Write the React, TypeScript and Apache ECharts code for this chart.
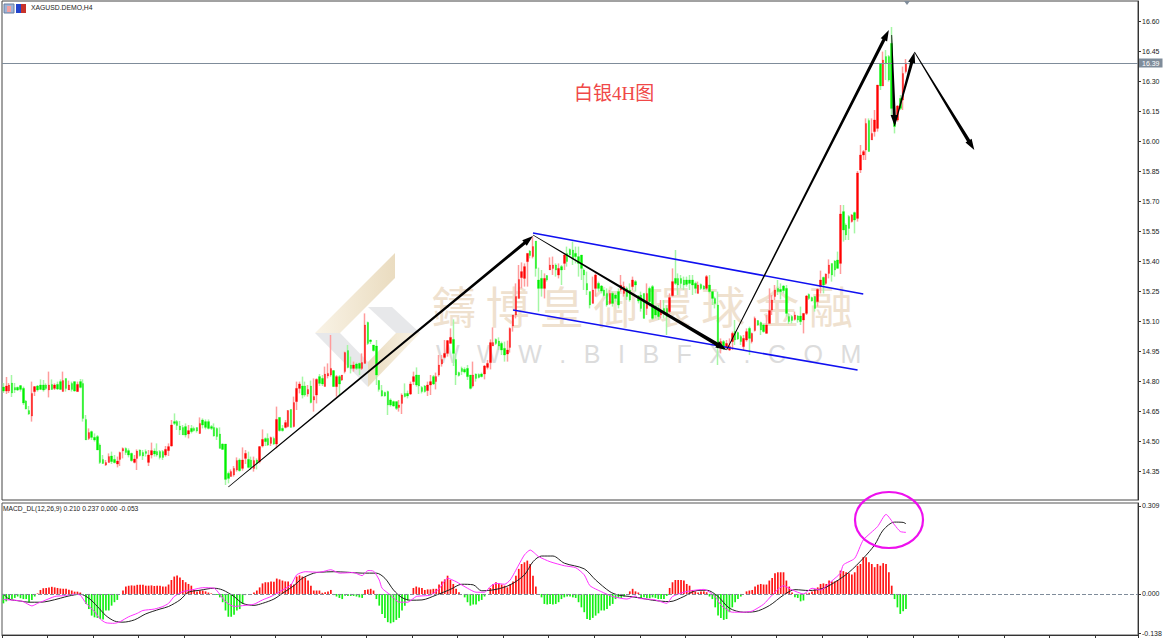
import React, { useEffect, useRef } from "react";
import * as echarts from "echarts";

type C = [number, number, number, number];
// [open, close, low, high]
const candlesFlat: C[] = [
[14.77,14.75,14.74,14.79],[14.75,14.775,14.735,14.82],[14.75,14.78,14.74,14.79],[14.79,14.74,14.72,14.83],[14.767,14.755,14.74,14.79],[14.768,14.755,14.75,14.772],[14.777,14.758,14.747,14.78],[14.763,14.69,14.68,14.772],[14.70,14.66,14.658,14.705],[14.652,14.635,14.63,14.675],
[14.625,14.738,14.597,14.797],[14.747,14.772,14.725,14.775],[14.775,14.755,14.747,14.78],[14.78,14.758,14.755,14.808],[14.78,14.755,14.747,14.805],[14.78,14.763,14.755,14.788],[14.755,14.78,14.718,14.847],[14.783,14.758,14.755,14.808],[14.763,14.78,14.755,14.788],[14.783,14.76,14.755,14.797],
[14.797,14.758,14.755,14.808],[14.747,14.802,14.747,14.847],[14.813,14.763,14.747,14.813],[14.755,14.78,14.755,14.802],[14.788,14.758,14.747,14.797],[14.797,14.75,14.747,14.797],[14.747,14.783,14.747,14.797],[14.797,14.768,14.763,14.81],[14.788,14.613,14.597,14.808],[14.608,14.505,14.505,14.63],
[14.513,14.542,14.505,14.563],[14.547,14.518,14.505,14.552],[14.518,14.505,14.497,14.538],[14.522,14.455,14.455,14.53],[14.48,14.392,14.385,14.488],[14.408,14.388,14.385,14.43],[14.38,14.392,14.375,14.405],[14.392,14.422,14.392,14.438],[14.425,14.397,14.385,14.447],[14.408,14.392,14.388,14.43],
[14.385,14.4,14.368,14.422],[14.408,14.442,14.375,14.447],[14.45,14.462,14.413,14.468],[14.463,14.442,14.43,14.468],[14.452,14.43,14.418,14.463],[14.438,14.402,14.397,14.442],[14.393,14.41,14.388,14.43],[14.413,14.45,14.355,14.458],[14.455,14.427,14.422,14.458],[14.443,14.425,14.405,14.455],
[14.447,14.438,14.422,14.458],[14.393,14.43,14.375,14.455],[14.43,14.452,14.413,14.492],[14.45,14.435,14.422,14.463],[14.447,14.43,14.422,14.488],[14.447,14.418,14.408,14.455],[14.447,14.418,14.405,14.455],[14.43,14.458,14.422,14.475],[14.452,14.472,14.425,14.488],[14.475,14.58,14.472,14.605],
[14.597,14.588,14.58,14.638],[14.597,14.577,14.555,14.605],[14.575,14.555,14.53,14.6],[14.568,14.53,14.53,14.58],[14.572,14.53,14.518,14.588],[14.535,14.552,14.513,14.58],[14.563,14.547,14.538,14.58],[14.563,14.552,14.547,14.572],[14.567,14.55,14.542,14.568],[14.538,14.588,14.535,14.618],
[14.605,14.58,14.563,14.613],[14.597,14.568,14.558,14.608],[14.597,14.563,14.558,14.608],[14.572,14.563,14.555,14.58],[14.568,14.525,14.522,14.588],[14.563,14.522,14.505,14.568],[14.535,14.463,14.463,14.568],[14.485,14.458,14.455,14.488],
];
const candlesRiseOne: C[] = [
[14.485,14.308,14.28,14.485],[14.338,14.313,14.288,14.347],[14.322,14.347,14.322,14.358],[14.33,14.363,14.322,14.375],[14.355,14.402,14.347,14.418],[14.405,14.352,14.347,14.413],[14.363,14.405,14.352,14.468],[14.413,14.438,14.385,14.455],[14.408,14.368,14.363,14.447],[14.405,14.368,14.355,14.422],
[14.363,14.402,14.347,14.422],[14.405,14.388,14.358,14.413],[14.397,14.472,14.388,14.475],[14.475,14.508,14.468,14.558],[14.512,14.497,14.475,14.518],[14.513,14.48,14.475,14.538],[14.488,14.517,14.475,14.522],[14.513,14.485,14.48,14.522],[14.485,14.608,14.463,14.672],[14.618,14.552,14.547,14.618],
[14.563,14.552,14.547,14.58],[14.568,14.592,14.563,14.605],[14.572,14.652,14.568,14.655],[14.658,14.568,14.568,14.658],[14.572,14.692,14.568,14.722],[14.697,14.763,14.655,14.797],[14.763,14.785,14.738,14.797],[14.775,14.73,14.713,14.822],[14.775,14.73,14.722,14.797],[14.735,14.758,14.722,14.78],
[14.775,14.692,14.688,14.802],[14.705,14.722,14.647,14.813],[14.73,14.808,14.688,14.813],[14.822,14.788,14.775,14.835],[14.813,14.785,14.775,14.83],[14.772,14.835,14.772,14.872],[14.825,14.838,14.813,14.888],[14.83,14.863,14.822,15.03],[14.852,14.772,14.772,14.855],[14.772,14.822,14.722,14.83],
[14.822,14.785,14.73,14.83],[14.805,14.83,14.8,14.83],[14.847,14.942,14.838,14.947],[14.952,14.868,14.863,14.98],[14.88,14.863,14.838,14.922],[14.863,14.88,14.847,14.897],[14.885,14.863,14.855,14.892],[14.888,14.863,14.83,14.892],[14.863,14.892,14.855,14.938],[14.888,15.08,14.888,15.138],
[15.093,14.988,14.98,15.097],[15.005,14.997,14.985,15.008],[14.98,14.952,14.947,14.98],[14.975,14.83,14.78,15.005],[14.802,14.758,14.747,14.805],[14.752,14.725,14.722,14.78],[14.743,14.725,14.722,14.747],[14.747,14.68,14.63,14.752],[14.705,14.68,14.672,14.713],[14.697,14.675,14.672,14.702],
[14.697,14.663,14.655,14.697],[14.668,14.68,14.647,14.705],[14.688,14.73,14.635,14.738],[14.738,14.722,14.718,14.788],[14.738,14.725,14.713,14.752],[14.735,14.785,14.73,14.797],[14.797,14.822,14.78,14.847],[14.83,14.78,14.772,14.868],[14.83,14.775,14.735,14.83],[14.768,14.747,14.738,14.775],
[14.775,14.747,14.742,14.78],[14.752,14.78,14.725,14.797],[14.78,14.797,14.73,14.83],[14.822,14.785,14.78,14.83],[14.797,14.822,14.758,14.842],[14.83,14.88,14.822,14.93],[14.885,14.908,14.872,14.93],[14.918,14.938,14.913,15.005],[14.938,15.002,14.922,15.005],[14.988,15.018,14.988,15.063],
[15.008,14.938,14.875,15.108],[14.908,14.83,14.78,14.938],[14.842,14.828,14.822,14.847],[14.863,14.847,14.83,14.872],[14.858,14.845,14.838,14.868],[14.863,14.822,14.805,14.88],[14.83,14.763,14.758,14.83],[14.775,14.83,14.768,14.897],[14.835,14.813,14.797,14.838],[14.833,14.818,14.813,14.838],
[14.835,14.822,14.818,14.842],[14.835,14.875,14.808,14.88],[14.868,14.888,14.858,14.905],[14.892,14.992,14.858,15.008],[14.975,14.992,14.975,15.068],[15.008,14.988,14.98,15.013],[15.0,14.975,14.955,15.018],[14.988,14.955,14.93,14.997],[14.963,14.93,14.897,14.997],[14.935,14.955,14.897,15.002],
[14.968,15.063,14.942,15.068],[15.075,15.13,15.047,15.13],[15.13,15.222,15.113,15.288],[15.213,15.308,15.213,15.38],
];
const candlesChannel: C[] = [
[15.317,15.347,15.263,15.393],[15.313,15.372,15.272,15.388],[15.397,15.438,15.272,15.438],[15.45,15.427,15.413,15.455],[15.422,15.472,15.413,15.522],[15.5,15.363,15.322,15.5],[15.305,15.263,15.147,15.367],[15.313,15.263,15.222,15.355],[15.263,15.313,15.213,15.338],[15.327,15.305,15.297,15.33],
[15.355,15.38,15.355,15.418],[15.363,15.38,15.33,15.422],[15.38,15.355,15.322,15.388],[15.33,15.363,15.313,15.388],[15.372,15.355,15.28,15.38],[15.388,15.43,15.355,15.438],[15.438,15.397,15.372,15.472],[15.458,15.43,15.422,15.463],[15.455,15.413,15.38,15.497],[15.438,15.422,15.388,15.472],
[15.422,15.388,15.322,15.472],[15.43,15.363,15.305,15.43],[15.355,15.33,15.255,15.363],[15.288,15.255,15.23,15.347],[15.247,15.18,15.163,15.247],[15.188,15.255,15.188,15.322],[15.263,15.33,15.222,15.338],[15.288,15.263,15.247,15.297],[15.275,15.25,15.238,15.28],[15.255,15.227,15.222,15.263],
[15.238,15.18,15.172,15.263],[15.188,15.238,15.18,15.255],[15.238,15.188,15.172,15.247],[15.23,15.213,15.197,15.238],[15.247,15.18,15.163,15.263],[15.255,15.28,15.247,15.33],[15.238,15.272,15.222,15.297],[15.263,15.222,15.205,15.272],[15.255,15.205,15.197,15.288],[15.272,15.305,15.255,15.322],
[15.297,15.28,15.247,15.305],[15.225,15.2,15.188,15.23],[15.23,15.163,15.147,15.247],[15.238,15.113,15.113,15.238],[15.163,15.238,15.13,15.288],[15.263,15.197,15.172,15.272],[15.272,15.113,15.105,15.28],[15.172,15.13,15.113,15.18],[15.163,15.122,15.105,15.18],[15.13,15.147,15.113,15.205],
[15.163,15.138,15.113,15.205],[15.163,15.122,15.03,15.18],[15.147,15.217,15.138,15.238],[15.227,15.297,15.222,15.363],[15.313,15.288,15.28,15.455],[15.313,15.28,15.23,15.338],[15.313,15.288,15.263,15.33],[15.305,15.28,15.255,15.322],[15.305,15.283,15.272,15.322],[15.305,15.288,15.255,15.33],
[15.305,15.28,15.23,15.33],[15.288,15.263,15.238,15.297],[15.238,15.28,15.238,15.297],[15.283,15.263,15.255,15.288],[15.275,15.26,15.255,15.28],[15.263,15.322,15.255,15.33],[15.28,15.247,15.238,15.33],[15.247,15.213,15.18,15.247],[15.213,15.188,15.163,15.222],[15.18,14.972,14.88,15.247],
[14.972,14.997,14.938,15.013],[14.997,14.967,14.955,15.005],[14.967,14.988,14.96,15.005],[14.955,14.972,14.95,15.013],[14.997,15.038,14.955,15.047],[15.047,15.005,14.98,15.105],[15.042,15.01,15.005,15.047],[15.022,14.997,14.98,15.03],
];
const candlesBreakout: C[] = [
[14.972,15.013,14.955,15.03],[15.005,15.047,14.997,15.063],[15.063,15.013,14.93,15.072],[14.997,15.038,14.988,15.042],[15.052,15.113,15.047,15.122],[15.102,15.08,15.075,15.105],[15.092,15.055,15.03,15.097],[15.08,15.047,15.042,15.085],[15.038,15.08,15.038,15.13],[15.088,15.152,15.088,15.263],
[15.155,15.205,15.13,15.23],[15.222,15.255,15.205,15.28],[15.263,15.247,15.23,15.305],[15.258,15.247,15.208,15.288],[15.275,15.252,15.238,15.28],[15.263,15.138,15.122,15.28],[15.122,15.097,15.085,15.138],[15.122,15.102,15.088,15.13],[15.108,15.13,15.102,15.147],[15.125,15.105,15.092,15.13],
[15.125,15.097,15.08,15.172],[15.105,15.138,15.038,15.138],[15.138,15.225,15.13,15.23],[15.233,15.213,15.205,15.238],[15.217,15.2,15.197,15.222],[15.222,15.163,15.147,15.225],[15.197,15.258,15.172,15.263],[15.272,15.305,15.238,15.352],[15.318,15.28,15.238,15.322],[15.288,15.335,15.28,15.338],
[15.338,15.38,15.313,15.408],[15.388,15.33,15.297,15.388],[15.4,15.355,15.322,15.405],[15.405,15.363,15.363,15.447],[15.388,15.635,15.335,15.68],[15.647,15.555,15.497,15.68],[15.58,15.53,15.505,15.588],[15.622,15.563,15.505,15.63],[15.597,15.63,15.592,15.635],[15.642,15.605,15.538,15.647],
[15.613,15.84,15.597,15.85],[15.855,15.93,15.84,15.98],[15.93,15.947,15.905,15.955],[15.955,16.088,15.905,16.113],[16.102,15.947,15.947,16.113],[16.005,16.038,16.005,16.113],[16.047,16.105,16.022,16.155],[16.063,16.28,16.047,16.28],[16.388,16.275,16.255,16.388],[16.275,16.405,16.275,16.447],
[16.422,16.388,16.305,16.455],[16.422,16.305,16.297,16.43],[16.488,16.163,16.13,16.57],[16.13,16.072,16.038,16.172],[16.105,16.175,16.097,16.18],[16.213,16.163,16.155,16.23],[16.205,16.338,16.155,16.372],[16.347,16.39,16.338,16.41],
];
const macdHist: number[] = [
-.033,-.026,-.018,-.018,-.014,-.009,-.015,-.018,-.018,-.029,-.021,-.009,
.002,.014,.02,.021,.023,.025,.023,.021,.019,.018,.018,.015,.012,.008,.008,.005,
-.004,-.035,-.053,-.076,-.082,-.084,-.088,-.09,-.058,-.058,-.041,-.029,-.021,0,
.012,.026,.029,.03,.029,.032,.032,.032,.029,.029,.03,.028,.029,.029,.026,.026,.033,.049,.061,.065,.058,.049,.041,.035,.029,.014,.009,.012,.012,.009,.005,.002,
0,-.004,-.012,-.029,-.058,-.08,-.08,-.073,-.058,-.053,-.035,-.004,0,0,.005,
.012,.023,.037,.041,.041,.044,.043,.054,.051,.047,.044,.044,.035,.033,.061,.065,.061,.058,.047,.029,.012,.012,.012,
.004,.006,.009,.014,-.004,-.009,-.014,-.018,-.006,-.007,-.007,-.007,-.009,-.012,-.014,
.014,.016,.018,.012,-.018,-.041,-.07,-.084,-.099,-.103,-.099,-.091,-.084,-.058,-.041,-.023,0,
.021,.026,.023,.021,.014,.016,.016,.018,.018,.033,.044,.051,.064,.049,.035,.018,.006,0,
-.012,-.029,-.041,-.037,-.037,-.026,-.021,-.009,0,
.021,.035,.041,.037,.033,.029,.023,.035,.044,.064,.088,.105,.111,.117,.105,.064,.026,0,
-.012,-.035,-.037,-.035,-.037,-.035,-.029,-.018,-.012,-.009,-.009,-.012,-.014,-.029,-.047,-.064,-.088,-.091,-.084,-.076,-.068,-.058,-.058,-.053,-.041,-.035,-.018,-.014,-.014,-.009,-.002,
.009,.018,.009,.005,-.015,-.012,-.014,-.015,-.012,-.014,-.018,-.018,-.018,-.007,
.021,.041,.049,.049,.049,.047,.035,.029,.014,.009,.005,.009,.009,.006,
-.009,-.018,-.047,-.076,-.084,-.091,-.088,-.064,-.047,-.029,-.018,-.009,0,
.009,.012,.014,.026,.032,.035,.033,.033,.047,.056,.073,.076,.076,.076,.047,.026,.005,
-.012,-.014,-.026,-.023,
.002,.004,.009,.016,.023,.035,.037,.035,.047,.044,.044,.049,.082,.08,.076,.073,.068,.076,.099,.105,.129,.129,.111,.105,.094,.105,.099,.108,.105,.076,.029,
-.018,-.047,-.07,-.061,-.053,
];
// [bar index, value]
const macdLine: [number, number][] = [
[0,-.019],[2,-.021],[5,-.023],[7,-.027],[10,-.042],[12,-.033],[14,-.025],[18,-.009],[21,-.006],[25,-.001],[27,-.004],[29,-.033],[32,-.062],[34,-.088],[36,-.101],[39,-.103],[41,-.097],[44,-.08],[47,-.068],[49,-.058],[53,-.053],[56,-.044],[58,-.033],[60,-.009],[63,.008],[67,.016],[70,.022],[74,.02],[76,-.001],[78,-.027],[81,-.044],[84,-.041],[88,-.036],[91,-.021],[94,-.009],[97,.008],[101,.032],[103,.067],[106,.078],[111,.076],
[115,.085],[118,.073],[123,.075],[126,.064],[128,.082],[130,.08],[132,.049],[133,.02],[136,-.004],[139,-.029],[142,-.029],[145,-.009],[150,-.004],[153,.018],[156,.055],[159,.043],[163,.02],[166,.006],[169,.006],[171,.026],[173,.037],[176,.034],[178,.049],[181,.102],[183,.137],[185,.154],[188,.131],[192,.113],[197,.099],[201,.092],[204,.067],[206,.029],[210,.008],[214,-.009],[219,-.018],[222,-.007],[223,-.015],
[226,-.018],[229,-.021],[233,-.033],[235,-.009],[239,.006],[242,.012],[246,.016],[250,-.009],[252,-.039],[256,-.064],[260,-.064],[263,-.06],[267,-.036],[270,-.004],[274,.029],[277,.014],[281,0],[284,.02],[287,.014],[291,.046],[294,.073],[295,.102],[299,.125],[302,.189],[307,.236],[310,.279],[313,.242],[315,.219],[317,.216],
];
const signalLine: [number, number][] = [
[0,0],[2,-.018],[6,-.025],[9,-.029],[13,-.029],[16,-.025],[20,-.015],[23,-.007],[27,-.001],[30,-.015],[33,-.044],[36,-.076],[39,-.095],[42,-.099],[46,-.091],[50,-.07],[55,-.053],[58,-.044],[62,-.021],[65,.006],[69,.013],[74,.02],[77,.014],[81,-.009],[84,-.033],[88,-.04],[91,-.033],[95,-.018],[98,.002],[102,.029],[105,.055],[109,.073],[111,.076],
[116,.078],[121,.076],[126,.073],[131,.073],[134,.055],[137,.014],[140,-.013],[143,-.022],[147,-.021],[152,-.004],[157,.016],[161,.034],[165,.032],[168,.011],[173,.016],[178,.032],[183,.067],[186,.113],[189,.133],[193,.133],[197,.108],[204,.088],[208,.049],[213,.008],[216,-.004],[220,-.009],[223,-.013],
[228,-.022],[234,-.027],[239,-.009],[243,.011],[247,.013],[251,-.009],[255,-.05],[260,-.064],[264,-.062],[269,-.041],[274,-.004],[278,.015],[283,.012],[288,.02],[292,.041],[297,.076],[302,.125],[306,.172],[309,.224],[313,.252],[316,.251],[317,.246],
];
const priceTicks = [16.6,16.45,16.3,16.15,16.0,15.85,15.7,15.55,15.4,15.25,15.1,14.95,14.8,14.65,14.5,14.35];
const macdTicks = [0.309,0,-0.138];
const lastPrice = 16.39;
// [from bar, from price, to bar, to price, max width]
const arrows = [
[78.8,14.27,185.8,15.525,3.0],
[185.8,15.53,253.9,14.955,4.0],
[253.9,14.955,310.7,16.555,3.2],
[311.7,16.53,312.8,16.075,3.0],
[312.8,16.075,319.5,16.445,3.2],
[319.5,16.445,340.5,15.955,3.6],
];
const channelUpper: [number, number][] = [[185.8,15.54],[302.3,15.235]];
const channelLower: [number, number][] = [[178.8,15.155],[299.5,14.855]];
const barSlots = 399;
const title = "XAGUSD.DEMO,H4";
const macdTitle = "MACD_DL(12,26,9) 0.210 0.237 0.000 -0.053";
const noteText = "白银4H图";
const wmCn = "鑄 博 皇 御 環 球 金 融";
const wmEn = ["W","W","W",".","B","I","B","F","X",".","C","O","M"].join("\u2002\u2009");

const candles: C[] = [...candlesFlat, ...candlesRiseOne, ...candlesChannel, ...candlesBreakout];

function renderArrow(_p: any, api: any) {
  const a = api.coord([api.value(0), api.value(1)]);
  const b = api.coord([api.value(2), api.value(3)]);
  const w = api.value(4);
  const dx = b[0] - a[0], dy = b[1] - a[1];
  const len = Math.hypot(dx, dy) || 1;
  const ux = dx / len, uy = dy / len, nx = -uy, ny = ux;
  const headLen = 11, headHalf = 3.6;
  const bx = b[0] - ux * headLen, by = b[1] - uy * headLen;
  const p0 = 0.4, p1 = w / 2;
  return {
    type: "polygon",
    shape: {
      points: [
        [a[0] + nx * p0, a[1] + ny * p0],
        [bx + nx * p1, by + ny * p1],
        [bx + nx * headHalf, by + ny * headHalf],
        [b[0], b[1]],
        [bx - nx * headHalf, by - ny * headHalf],
        [bx - nx * p1, by - ny * p1],
        [a[0] - nx * p0, a[1] - ny * p0],
      ],
    },
    style: { fill: "#000000" },
  };
}

const logoFill = (x0: number, x1: number) => ({
  type: "linear", x: x0, y: 0, x2: x1, y2: 0,
  colorStops: [{ offset: 0, color: "#f9f3e6" }, { offset: 1, color: "#eadcc0" }],
});

export default function App() {
  const ref = useRef<HTMLDivElement>(null);
  useEffect(() => {
    document.body.style.margin = "0";
    const chart = echarts.init(ref.current!, undefined, { renderer: "svg" });
    const cats = Array.from({ length: barSlots }, (_, i) => String(i));
    const font = "Liberation Sans";
    chart.setOption({
      animation: false,
      backgroundColor: "#ffffff",
      grid: [
        { left: 2, right: 32, top: 1, height: 499, show: true, borderColor: "#444444", borderWidth: 1, backgroundColor: "transparent" },
        { left: 2, right: 32, top: 503, height: 132, show: true, borderColor: "#555555", borderWidth: 1, backgroundColor: "transparent" },
      ],
      xAxis: [
        { type: "category", gridIndex: 0, data: cats, axisLine: { show: false, onZero: false }, axisTick: { show: false }, axisLabel: { show: false }, splitLine: { show: false } },
        { type: "category", gridIndex: 1, data: cats, position: "bottom", axisLine: { show: true, onZero: false, lineStyle: { color: "#333" } }, axisTick: { show: true, interval: 15, length: 3, lineStyle: { color: "#333" } }, axisLabel: { show: false }, splitLine: { show: false } },
      ],
      yAxis: [
        { type: "value", gridIndex: 0, position: "right", min: 14.205, max: 16.7, splitLine: { show: false },
          axisLine: { show: true, lineStyle: { color: "#333" } },
          axisTick: { show: true, length: 3, customValues: priceTicks, lineStyle: { color: "#333" } },
          axisLabel: { customValues: priceTicks, margin: 4, color: "#222", fontSize: 7, fontFamily: font, formatter: (v: number) => v.toFixed(2) } },
        { type: "value", gridIndex: 1, position: "right", min: -0.144, max: 0.319, splitLine: { show: false },
          axisLine: { show: true, lineStyle: { color: "#333" } },
          axisTick: { show: true, length: 3, customValues: macdTicks, lineStyle: { color: "#333" } },
          axisLabel: { customValues: macdTicks, margin: 4, color: "#222", fontSize: 7, fontFamily: font, formatter: (v: number) => v.toFixed(3) } },
      ],
      series: [
        { type: "candlestick", xAxisIndex: 0, yAxisIndex: 0, z: 2, barWidth: 1, data: candles,
          itemStyle: { color: "#ff9c9c", color0: "#a4f7a4", borderColor: "#ff9c9c", borderColor0: "#a4f7a4", borderColorDoji: "#a4f7a4", borderWidth: 1.5 },
          markLine: { silent: true, symbol: "none", animation: false, lineStyle: { color: "#7f8c9a", type: "solid", width: 1 },
            data: [{ yAxis: lastPrice }],
            label: { position: "end", distance: 1, formatter: () => lastPrice.toFixed(2), color: "#ffffff", backgroundColor: "#7f8c9a", padding: [1, 3], fontSize: 7, fontFamily: font } } },
        { type: "candlestick", xAxisIndex: 0, yAxisIndex: 0, z: 3, barWidth: 2, data: candles.map(([o, c]) => [o, c, Math.min(o, c), Math.max(o, c)]),
          itemStyle: { color: "#ff0000", color0: "#00f000", borderColor: "#ff0000", borderColor0: "#00f000", borderColorDoji: "#00f000", borderWidth: 0.3 } },
        { type: "line", xAxisIndex: 0, yAxisIndex: 0, z: 4, data: channelUpper, showSymbol: false, lineStyle: { color: "#1010f0", width: 1.6 } },
        { type: "line", xAxisIndex: 0, yAxisIndex: 0, z: 4, data: channelLower, showSymbol: false, lineStyle: { color: "#1010f0", width: 1.6 } },
        { type: "custom", xAxisIndex: 0, yAxisIndex: 0, z: 5, clip: false, renderItem: renderArrow, data: arrows, encode: { x: [0, 2], y: [1, 3] } },
        { type: "bar", xAxisIndex: 1, yAxisIndex: 1, z: 2, barWidth: 1.7,
          data: macdHist.map((v) => ({ value: v, itemStyle: { color: v >= 0 ? "#ff1414" : "#14f014" } })),
          markLine: { silent: true, symbol: "none", animation: false, data: [{ yAxis: 0 }], label: { show: false }, lineStyle: { color: "#7f8c9a", type: "dashed", width: 1 } } },
        { type: "line", xAxisIndex: 1, yAxisIndex: 1, z: 3, data: signalLine, showSymbol: false, smooth: 0.3, lineStyle: { color: "#222222", width: 1 } },
        { type: "line", xAxisIndex: 1, yAxisIndex: 1, z: 4, data: macdLine, showSymbol: false, smooth: 0.2, lineStyle: { color: "#ff30ff", width: 1 } },
      ],
      graphic: [
        { type: "polygon", z: 0, shape: { points: [[315,333],[395,253],[395,278],[340,333]] }, style: { fill: logoFill(0, 1) } },
        { type: "polygon", z: 0, shape: { points: [[368,307],[392,307],[420,333],[396,333]] }, style: { fill: "#e7e8ea" } },
        { type: "polygon", z: 0, shape: { points: [[315,333],[340,333],[368,362],[368,387]] }, style: { fill: "#e7e8ea" } },
        { type: "polygon", z: 0, shape: { points: [[396,333],[420,333],[368,387],[368,362]] }, style: { fill: logoFill(1, 0) } },
        { type: "text", z: 0, x: 432, y: 283, style: { text: wmCn, font: '44px "Noto Sans CJK TC"', fill: "#efe1cf" } },
        { type: "text", z: 0, x: 436, y: 341, style: { text: wmEn, font: '25px "Liberation Sans"', fill: "#dcdcdc" } },
        { type: "rect", z: 10, shape: { x: 4, y: 4, width: 10, height: 9 }, style: { fill: "#9db4d8", stroke: "#6a7f9f" } },
        { type: "rect", z: 10, shape: { x: 7, y: 6, width: 4, height: 6 }, style: { fill: "#f2a0a0" } },
        { type: "rect", z: 10, shape: { x: 16, y: 4, width: 5, height: 9 }, style: { fill: "#2244cc" } },
        { type: "rect", z: 10, shape: { x: 21, y: 4, width: 5, height: 9 }, style: { fill: "#c8322a" } },
        { type: "text", z: 10, x: 31, y: 4, style: { text: title, font: '6.8px "Liberation Sans"', fill: "#222222" } },
        { type: "text", z: 10, x: 3, y: 505, style: { text: macdTitle, font: '6.7px "Liberation Sans"', fill: "#222222" } },
        { type: "text", z: 10, x: 574, y: 84, style: { text: noteText, font: '19px "Liberation Serif", "Noto Sans CJK SC"', fill: "#f04848" } },
        { type: "polygon", z: 10, shape: { points: [[904,1],[910,1],[907,5]] }, style: { fill: "#7f8c9a" } },
        { type: "ellipse", z: 100, shape: { cx: 889, cy: 520, rx: 34, ry: 28 }, style: { fill: "none", stroke: "#ee10ee", lineWidth: 2.2 } },
      ],
    });
    return () => chart.dispose();
  }, []);
  return <div ref={ref} style={{ width: 1170, height: 638 }} />;
}
